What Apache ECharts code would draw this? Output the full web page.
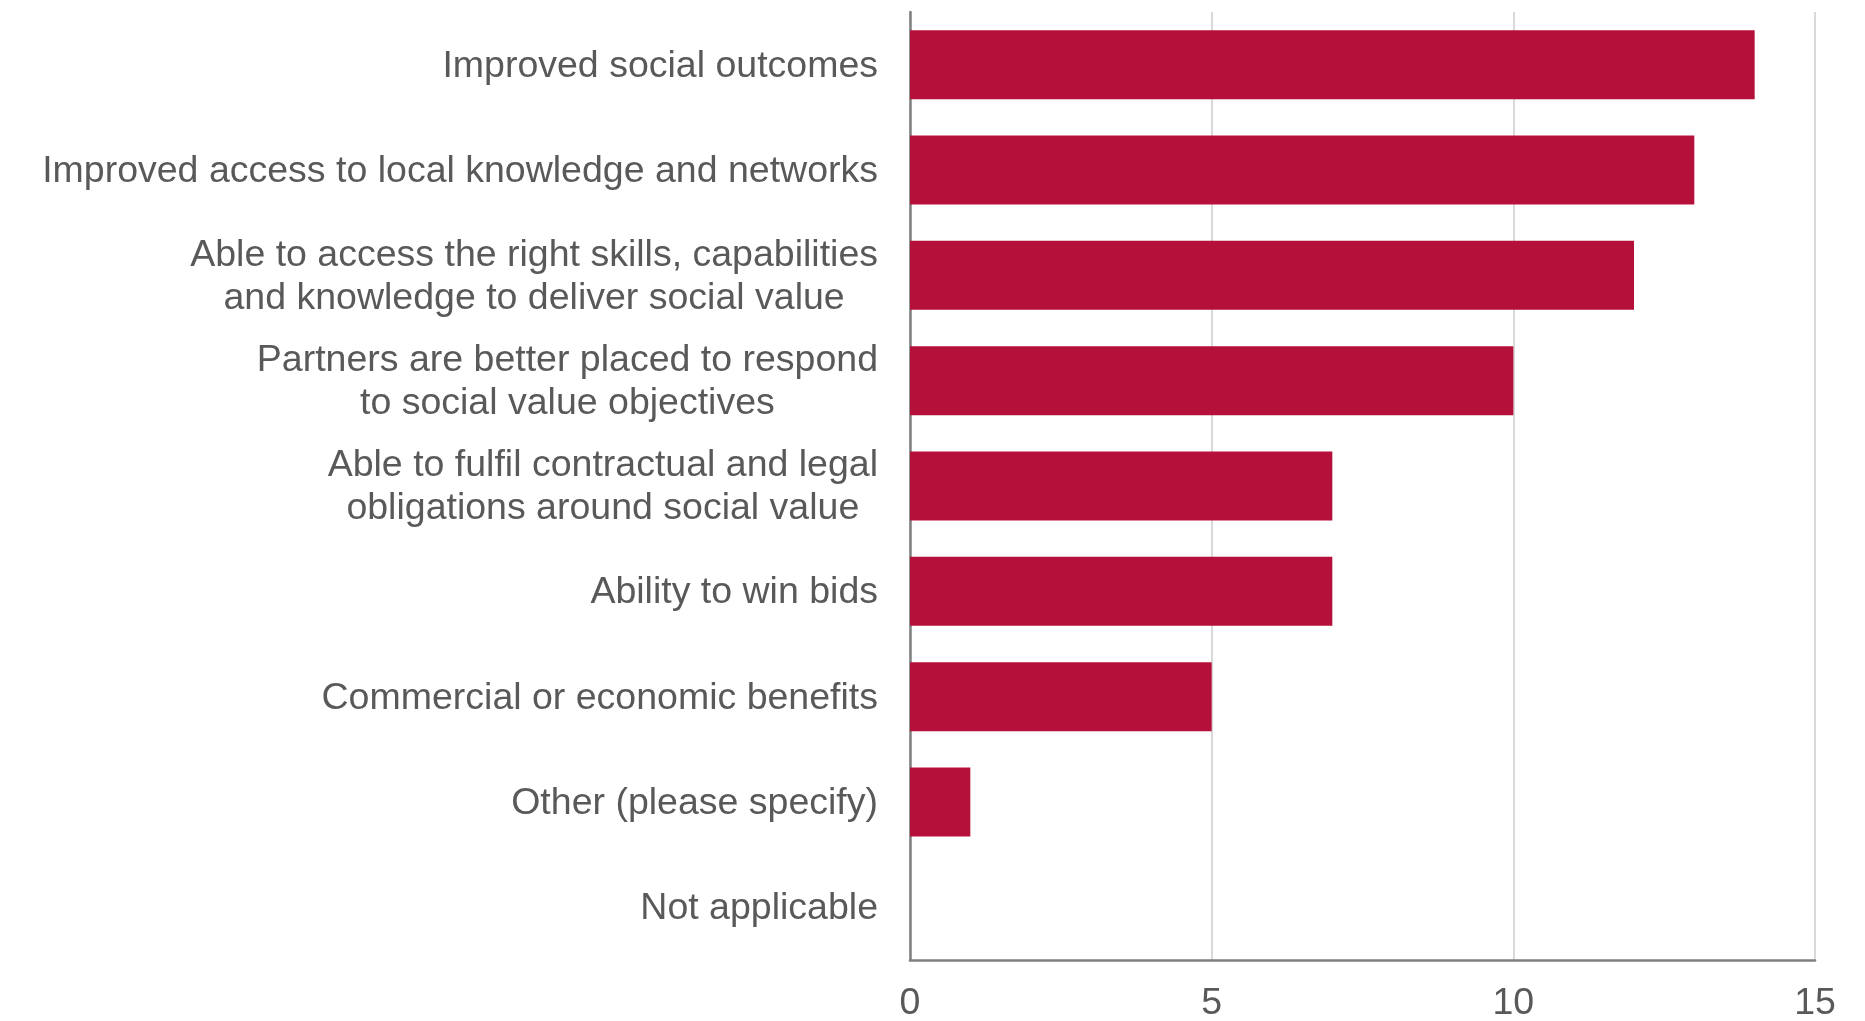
<!DOCTYPE html>
<html>
<head>
<meta charset="utf-8">
<script src="https://cdn.jsdelivr.net/npm/echarts@6/dist/echarts.min.js"></script>
<style>html,body{margin:0;padding:0;background:#fff}#c{width:1865px;height:1021px}</style>
</head>
<body>
<div id="c"></div>
<script>
const categories = [
  "Improved social outcomes",
  "Improved access to local knowledge and networks",
  "Able to access the right skills, capabilities\nand knowledge to deliver social value",
  "Partners are better placed to respond\nto social value objectives",
  "Able to fulfil contractual and legal\nobligations around social value",
  "Ability to win bids",
  "Commercial or economic benefits",
  "Other (please specify)",
  "Not applicable"
];
const values = [14, 13, 12, 10, 7, 7, 5, 1, 0];
const xTicks = [0, 5, 10, 15];

const chart = echarts.init(document.getElementById('c'));
chart.setOption({
  animation: false,
  grid: { left: 910, right: 50, top: 12, bottom: 61, containLabel: false, outerBoundsMode: 'none' },
  xAxis: {
    type: 'value', min: xTicks[0], max: xTicks[xTicks.length - 1], interval: 5,
    axisLine: { show: true, onZero: false, lineStyle: { color: '#7f7f7f', width: 2.5 } },
    axisTick: { show: false },
    splitLine: { show: true, lineStyle: { color: '#d9d9d9', width: 2 } },
    axisLabel: { fontSize: 37.5, color: '#595959', fontFamily: 'Liberation Sans, Arial, sans-serif', margin: 25 }
  },
  yAxis: {
    type: 'category', data: categories, inverse: true,
    axisLine: { show: true, lineStyle: { color: '#7f7f7f', width: 2.5 } },
    axisTick: { show: false },
    axisLabel: {
      margin: 32, color: '#595959', fontSize: 37.5, fontFamily: 'Liberation Sans, Arial, sans-serif',
      formatter: v => v.split('\n').map(s => '{c|' + s + '}').join('\n'),
      rich: { c: { align: 'center', fontSize: 37.5, lineHeight: 43, padding: [3, 0, 0, 0], color: '#595959', fontFamily: 'Liberation Sans, Arial, sans-serif' } }
    }
  },
  series: [{
    type: 'bar', data: values, barCategoryGap: '34.5%',
    itemStyle: { color: '#b5103a' }
  }]
});
</script>
</body>
</html>
